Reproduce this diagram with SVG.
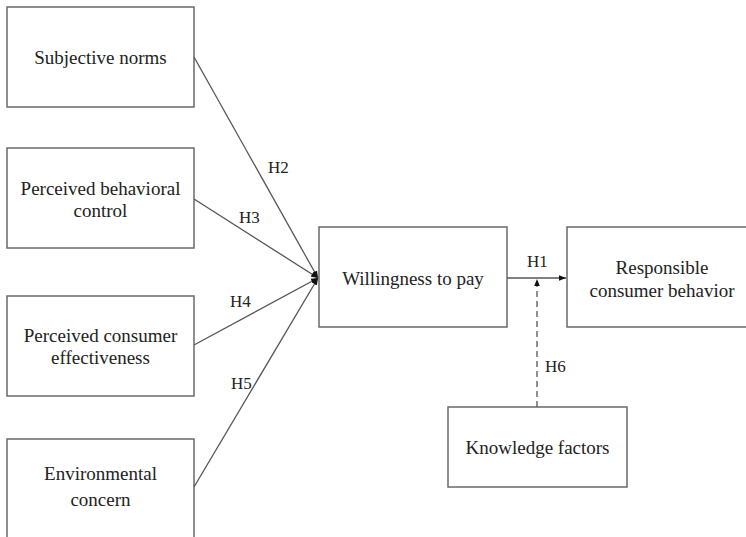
<svg xmlns="http://www.w3.org/2000/svg" width="746" height="537" viewBox="0 0 746 537">
<style>
.box{fill:#fff;stroke:#6a6a6a;stroke-width:1.5}
.t{font-family:"Liberation Serif","Times New Roman",serif;font-size:19px;fill:#222;text-anchor:middle}
.h{font-family:"Liberation Serif","Times New Roman",serif;font-size:17px;fill:#222}
.c{fill:none;stroke:#555;stroke-width:1.3}
</style>
<defs>
<marker id="ah" viewBox="0 0 10 10" refX="10" refY="5" markerWidth="7" markerHeight="7" markerUnits="userSpaceOnUse" orient="auto">
<path d="M0,1 L10,5 L0,9 Z" fill="#111"/>
</marker>
</defs>
<rect width="746" height="537" fill="#fff"/>
<g id="subjective-norms"><rect class="box" x="7" y="7" width="187" height="100"/><text class="t" x="100.5" y="64">Subjective norms</text></g>
<g id="perceived-behavioral-control"><rect class="box" x="7" y="148" width="187" height="100"/><text class="t" x="100.5" y="195">Perceived behavioral</text><text class="t" x="100.5" y="217">control</text></g>
<g id="perceived-consumer-effectiveness"><rect class="box" x="7" y="296" width="187" height="100"/><text class="t" x="100.5" y="342">Perceived consumer</text><text class="t" x="100.5" y="364">effectiveness</text></g>
<g id="environmental-concern"><rect class="box" x="7" y="439" width="187" height="110"/><text class="t" x="100.5" y="480">Environmental</text><text class="t" x="100.5" y="506">concern</text></g>
<g id="willingness-to-pay"><rect class="box" x="319" y="227" width="188" height="100"/><text class="t" x="413" y="285">Willingness to pay</text></g>
<g id="responsible-consumer-behavior"><rect class="box" x="567" y="227" width="190" height="100"/><text class="t" x="662" y="274">Responsible</text><text class="t" x="662" y="297">consumer behavior</text></g>
<g id="knowledge-factors"><rect class="box" x="448" y="407" width="179" height="80"/><text class="t" x="537.5" y="454">Knowledge factors</text></g>
<g id="connectors">
<line class="c" x1="194" y1="57" x2="318" y2="278" marker-end="url(#ah)"/>
<line class="c" x1="194" y1="199" x2="318" y2="278" marker-end="url(#ah)"/>
<line class="c" x1="194" y1="345" x2="318" y2="278" marker-end="url(#ah)"/>
<line class="c" x1="194" y1="487" x2="318" y2="278" marker-end="url(#ah)"/>
<line class="c" x1="507" y1="278" x2="566" y2="278" marker-end="url(#ah)"/>
<line class="c" x1="537" y1="407" x2="537" y2="279" stroke-dasharray="6,4" marker-end="url(#ah)"/>
<text class="h" x="268" y="173">H2</text>
<text class="h" x="239" y="223">H3</text>
<text class="h" x="230" y="307">H4</text>
<text class="h" x="231" y="389">H5</text>
<text class="h" x="527" y="267">H1</text>
<text class="h" x="545" y="372">H6</text>
</g>
</svg>
